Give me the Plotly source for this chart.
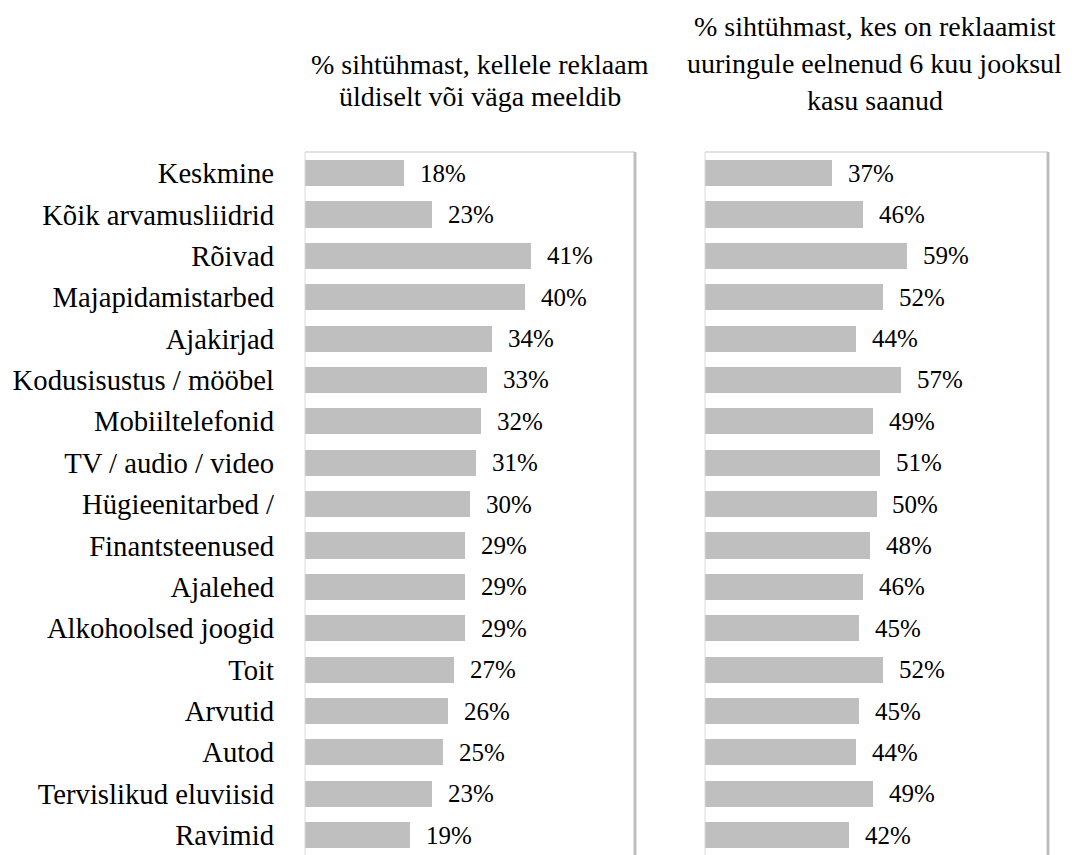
import plotly.graph_objects as go

categories = ["Keskmine", "Kõik arvamusliidrid", "Rõivad", "Majapidamistarbed", "Ajakirjad",
              "Kodusisustus / mööbel", "Mobiiltelefonid", "TV / audio / video", "Hügieenitarbed /",
              "Finantsteenused", "Ajalehed", "Alkohoolsed joogid", "Toit", "Arvutid", "Autod",
              "Tervislikud eluviisid", "Ravimid"]
liked = [18, 23, 41, 40, 34, 33, 32, 31, 30, 29, 29, 29, 27, 26, 25, 23, 19]
benefited = [37, 46, 59, 52, 44, 57, 49, 51, 50, 48, 46, 45, 52, 45, 44, 49, 42]
title_left = ["% sihtühmast, kellele reklaam", "üldiselt või väga meeldib"]
title_right = ["% sihtühmast, kes on reklaamist", "uuringule eelnenud 6 kuu jooksul", "kasu saanud"]

FONT = "Liberation Serif, Times New Roman, serif"
BAR = "#BFBFBF"
W, H = 1074, 855
idx = list(range(len(categories)))

fig = go.Figure()
fig.add_trace(go.Bar(y=idx, x=liked, orientation="h", marker=dict(color=BAR, line=dict(width=0)),
                     width=0.63, xaxis="x", yaxis="y", hoverinfo="skip"))
fig.add_trace(go.Bar(y=idx, x=benefited, orientation="h", marker=dict(color=BAR, line=dict(width=0)),
                     width=0.63, xaxis="x2", yaxis="y2", hoverinfo="skip"))

LBL = dict(family=FONT, size=25, color="#000")
annotations = []
for i, v in enumerate(liked):
    annotations.append(dict(x=v, y=i, xref="x", yref="y", text=f"{v}%", showarrow=False,
                            xanchor="left", xshift=14, font=LBL))
for i, v in enumerate(benefited):
    annotations.append(dict(x=v, y=i, xref="x2", yref="y2", text=f"{v}%", showarrow=False,
                            xanchor="left", xshift=14, font=LBL))

left_dom = [305 / W, 635 / W]
right_dom = [705 / W, 1048 / W]
top = 1 - 152 / H

TTL = dict(family=FONT, size=28, color="#000")
for k, line in enumerate(title_left):
    annotations.append(dict(x=480 / W, y=1 - (65 + 32 * k) / H,
                            xref="paper", yref="paper", text=line, showarrow=False,
                            xanchor="center", yanchor="middle", font=TTL))
for k, line in enumerate(title_right):
    annotations.append(dict(x=875 / W, y=1 - (26 + 37.5 * k) / H,
                            xref="paper", yref="paper", text=line, showarrow=False,
                            xanchor="center", yanchor="middle", font=TTL))

shapes = []
for xa, ya in [("x", "y"), ("x2", "y2")]:
    xr, yr = xa + " domain", ya + " domain"
    shapes.append(dict(type="line", xref=xr, yref=yr, x0=0, x1=0, y0=0, y1=1, line=dict(color="#D9D9D9", width=1)))
    shapes.append(dict(type="line", xref=xr, yref=yr, x0=0, x1=1, y0=1, y1=1, line=dict(color="#D9D9D9", width=1.5)))
    shapes.append(dict(type="line", xref=xr, yref=yr, x0=1, x1=1, y0=0, y1=1, line=dict(color="#BFBFBF", width=3)))

yrange = [16.48, -0.51]
fig.update_layout(
    width=W, height=H, margin=dict(l=0, r=0, t=0, b=0),
    font=dict(family=FONT, color="#000"),
    paper_bgcolor="white", plot_bgcolor="white", showlegend=False,
    bargap=0,
    xaxis=dict(domain=left_dom, range=[0, 60], showgrid=False, zeroline=False, showticklabels=False,
               showline=False, fixedrange=True),
    xaxis2=dict(domain=right_dom, range=[0, 100], showgrid=False, zeroline=False, showticklabels=False,
                showline=False, fixedrange=True),
    yaxis=dict(domain=[0, top], range=yrange, tickmode="array", tickvals=idx, ticktext=categories,
               showgrid=False, zeroline=False, showline=False, ticks="", ticklabelstandoff=30,
               tickfont=dict(family=FONT, size=28.7, color="#000"), fixedrange=True),
    yaxis2=dict(domain=[0, top], range=yrange, anchor="x2", showgrid=False, zeroline=False,
                showticklabels=False, showline=False, fixedrange=True),
    annotations=annotations, shapes=shapes,
)
fig.write_html("out.html", config={"displayModeBar": False},
               post_script="document.body.style.margin='0px';")
